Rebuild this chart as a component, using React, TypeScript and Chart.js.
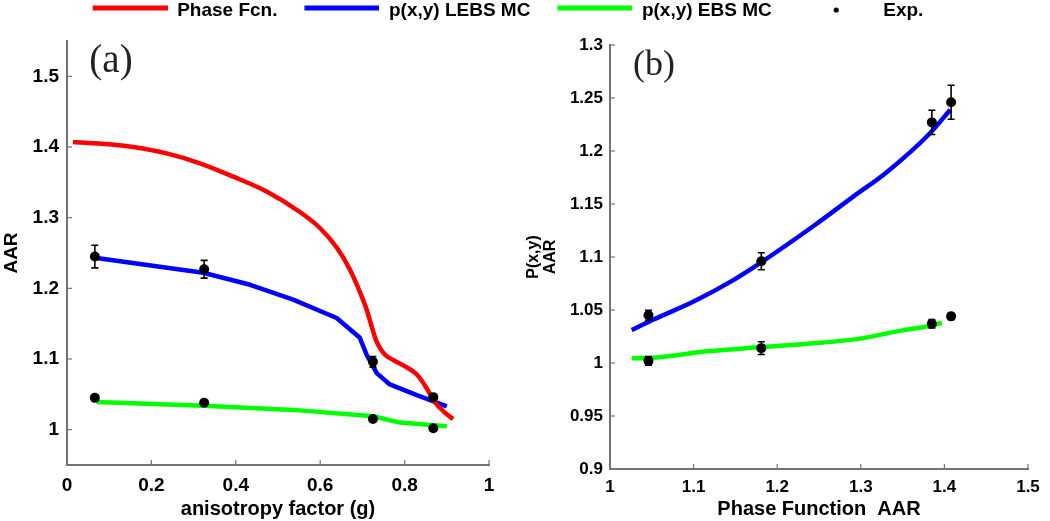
import React, { useEffect, useRef } from 'react';
import { Chart, registerables } from 'chart.js';

Chart.register(...registerables);

// ---------- Panel (a): AAR vs anisotropy factor g ----------
const G_PHASE = [0.014, 0.100, 0.157, 0.236, 0.315, 0.394, 0.473, 0.552, 0.600, 0.640, 0.670, 0.694, 0.710, 0.722, 0.732, 0.742, 0.754, 0.772, 0.797, 0.829, 0.852, 0.868, 0.892, 0.915];
const AAR_PHASE = [1.407, 1.404, 1.400, 1.391, 1.377, 1.358, 1.337, 1.308, 1.285, 1.257, 1.227, 1.195, 1.170, 1.146, 1.127, 1.115, 1.106, 1.099, 1.091, 1.078, 1.059, 1.042, 1.026, 1.015];

const G_LEBS = [0.070, 0.323, 0.434, 0.536, 0.639, 0.694, 0.710, 0.734, 0.765, 0.829, 0.900];
const AAR_LEBS = [1.243, 1.222, 1.205, 1.184, 1.158, 1.130, 1.106, 1.080, 1.064, 1.049, 1.033];

const G_EBS = [0.070, 0.323, 0.536, 0.726, 0.789, 0.900];
const AAR_EBS = [1.039, 1.034, 1.028, 1.019, 1.010, 1.005];

const G_EXP = [0.066, 0.325, 0.725, 0.868];
const EXP_LEBS_A = [1.245, 1.227, 1.096, 1.046];
const ERR_LEBS_A = [0.016, 0.0125, 0.0075, 0.003];
const EXP_EBS_A = [1.045, 1.038, 1.015, 1.002];
const ERR_EBS_A = [0.003, 0.003, 0.003, 0.003];

// ---------- Panel (b): P(x,y) AAR vs Phase Function AAR ----------
const PF_LEBS = [1.026, 1.052, 1.100, 1.147, 1.179, 1.243, 1.291, 1.331, 1.383, 1.407];
const P_LEBS = [1.031, 1.041, 1.058, 1.078, 1.094, 1.129, 1.157, 1.180, 1.217, 1.239];

const PF_EBS = [1.026, 1.052, 1.116, 1.181, 1.251, 1.299, 1.351, 1.383, 1.397];
const P_EBS = [1.0045, 1.005, 1.011, 1.015, 1.019, 1.023, 1.031, 1.035, 1.038];

const PF_EXP = [1.046, 1.181, 1.385, 1.408];
const EXP_LEBS_B = [1.045, 1.096, 1.227, 1.246];
const ERR_LEBS_B = [0.0047, 0.008, 0.0115, 0.016];
const EXP_EBS_B = [1.002, 1.014, 1.037, 1.044];
const ERR_EBS_B = [0.004, 0.006, 0.004, 0.003];

// ---------- Ticks ----------
const XA_TICKS = [0, 0.2, 0.4, 0.6, 0.8, 1];
const XA_LABELS = ['0', '0.2', '0.4', '0.6', '0.8', '1'];
const YA_TICKS = [1, 1.1, 1.2, 1.3, 1.4, 1.5];
const YA_LABELS = ['1', '1.1', '1.2', '1.3', '1.4', '1.5'];
const XB_TICKS = [1, 1.1, 1.2, 1.3, 1.4, 1.5];
const XB_LABELS = ['1', '1.1', '1.2', '1.3', '1.4', '1.5'];
const YB_TICKS = [0.9, 0.95, 1, 1.05, 1.1, 1.15, 1.2, 1.25, 1.3];
const YB_LABELS = ['0.9', '0.95', '1', '1.05', '1.1', '1.15', '1.2', '1.25', '1.3'];

const LEGEND_LABELS = ['Phase Fcn.', 'p(x,y) LEBS MC', 'p(x,y) EBS MC', 'Exp.'];

const RED = '#ff0000';
const BLUE = '#0000ff';
const GREEN = '#00ff00';
const BLACK = '#000000';
const AXIS = '#737373';
const FONT = '"Liberation Sans", Arial, Helvetica, sans-serif';
const SERIF = '"Liberation Serif", "DejaVu Serif", serif';

const pts = (xs: number[], ys: number[]) => xs.map((x, i) => ({ x, y: ys[i] }));

const errorBarPlugin = {
  id: 'errorBars',
  afterDatasetsDraw(chart: any) {
    const ctx = chart.ctx;
    chart.data.datasets.forEach((ds: any, di: number) => {
      if (!ds.errors) return;
      const meta = chart.getDatasetMeta(di);
      const xs = chart.scales[meta.xAxisID];
      const ys = chart.scales[meta.yAxisID];
      ctx.save();
      ctx.strokeStyle = BLACK;
      ctx.lineWidth = 1.6;
      ds.data.forEach((p: any, i: number) => {
        const e = ds.errors[i];
        const x = xs.getPixelForValue(p.x);
        const y1 = ys.getPixelForValue(p.y - e);
        const y2 = ys.getPixelForValue(p.y + e);
        ctx.beginPath();
        ctx.moveTo(x, y1); ctx.lineTo(x, y2);
        ctx.moveTo(x - 3.5, y1); ctx.lineTo(x + 3.5, y1);
        ctx.moveTo(x - 3.5, y2); ctx.lineTo(x + 3.5, y2);
        ctx.stroke();
      });
      ctx.restore();
    });
  },
};

const inwardTicks = {
  id: 'inwardTicks',
  afterDraw(chart: any) {
    const { ctx, chartArea } = chart;
    const xs = chart.scales.x;
    const ys = chart.scales.y;
    ctx.save();
    ctx.strokeStyle = AXIS;
    ctx.lineWidth = 1.2;
    xs.ticks.forEach((t: any) => {
      const px = xs.getPixelForValue(t.value);
      ctx.beginPath(); ctx.moveTo(px, chartArea.bottom); ctx.lineTo(px, chartArea.bottom - 5); ctx.stroke();
    });
    ys.ticks.forEach((t: any) => {
      const py = ys.getPixelForValue(t.value);
      ctx.beginPath(); ctx.moveTo(chartArea.left, py); ctx.lineTo(chartArea.left + 5, py); ctx.stroke();
    });
    ctx.restore();
  },
};

const panelLabel = {
  id: 'panelLabel',
  afterDraw(chart: any, _args: any, opts: any) {
    const { ctx, chartArea } = chart;
    ctx.save();
    ctx.font = `${opts.size}px ${SERIF}`;
    ctx.fillStyle = '#222';
    ctx.textAlign = 'center';
    ctx.textBaseline = 'alphabetic';
    ctx.fillText(opts.text, chartArea.left + opts.dx, chartArea.top + opts.dy);
    ctx.restore();
  },
};

function legendSymbol(color: string, kind: 'line' | 'dot'): HTMLCanvasElement {
  const c = document.createElement('canvas');
  c.width = 101;
  c.height = 21;
  const g = c.getContext('2d')!;
  g.fillStyle = color;
  if (kind === 'line') {
    g.fillRect(26, 5.5, 75, 5);
  } else {
    g.beginPath();
    g.arc(63.5, 10, 2.6, 0, Math.PI * 2);
    g.fill();
  }
  return c;
}

function fixedTicks(values: number[]) {
  return (s: any) => {
    s.ticks = values.map((v) => ({ value: v }));
  };
}

function axisOpts(opts: any) {
  return {
    type: 'linear',
    min: opts.min,
    max: opts.max,
    position: opts.position,
    afterBuildTicks: fixedTicks(opts.ticks),
    afterFit: opts.afterFit,
    grid: { display: false, drawTicks: false },
    border: { display: true, color: AXIS, width: 2 },
    ticks: {
      autoSkip: false,
      maxRotation: 0,
      padding: opts.pad,
      color: BLACK,
      font: { family: FONT, size: opts.tickSize, weight: 'bold' },
      callback: (_v: any, i: number) => opts.labels[i],
    },
    title: {
      display: true,
      text: opts.title,
      color: BLACK,
      font: { family: FONT, size: opts.titleSize, weight: 'bold', lineHeight: opts.titleLH || 1.2 },
      padding: opts.titlePad || 0,
    },
  };
}

const dummyAxis = (position: string, size: number) => ({
  type: 'linear',
  position,
  display: true,
  grid: { display: false, drawTicks: false },
  border: { display: false },
  ticks: { display: false },
  title: { display: false },
  afterFit: (s: any) => {
    if (position === 'top' || position === 'bottom') s.height = size;
    else s.width = size;
  },
});

const expDataset = (label: string, xs: number[], ys: number[], errs: number[], order: number) => ({
  label,
  data: pts(xs, ys),
  errors: errs,
  showLine: false,
  pointRadius: 5,
  pointBorderWidth: 0,
  pointBackgroundColor: BLACK,
  pointBorderColor: BLACK,
  borderColor: BLACK,
  backgroundColor: BLACK,
  order,
});

const lineDataset = (label: string, xs: number[], ys: number[], color: string, order: number, smooth: boolean) => ({
  label,
  data: pts(xs, ys),
  borderColor: color,
  backgroundColor: color,
  borderWidth: 4.5,
  pointRadius: 0,
  fill: false,
  tension: 0,
  borderJoinStyle: 'round',
  cubicInterpolationMode: smooth ? 'monotone' : 'default',
  order,
});

export default function App() {
  const refA = useRef<HTMLCanvasElement>(null);
  const refB = useRef<HTMLCanvasElement>(null);

  useEffect(() => {
    const symbols = [
      legendSymbol(RED, 'line'),
      legendSymbol(BLUE, 'line'),
      legendSymbol(GREEN, 'line'),
      legendSymbol(BLACK, 'dot'),
    ];

    const chartA = new Chart(refA.current as HTMLCanvasElement, {
      type: 'line',
      data: {
        datasets: [
          expDataset('Exp. LEBS', G_EXP, EXP_LEBS_A, ERR_LEBS_A, 0),
          expDataset('Exp. EBS', G_EXP, EXP_EBS_A, ERR_EBS_A, 1),
          lineDataset(LEGEND_LABELS[0], G_PHASE, AAR_PHASE, RED, 2, true),
          lineDataset(LEGEND_LABELS[1], G_LEBS, AAR_LEBS, BLUE, 3, false),
          lineDataset(LEGEND_LABELS[2], G_EBS, AAR_EBS, GREEN, 4, false),
        ] as any,
      },
      options: {
        animation: false,
        responsive: false,
        events: [],
        layout: { padding: { left: 0, top: 0, right: 60, bottom: 0 } },
        plugins: {
          legend: {
            display: true,
            position: 'top',
            labels: {
              usePointStyle: true,
              pointStyleWidth: 101,
              padding: 1,
              color: BLACK,
              font: { family: FONT, size: 19, weight: 'bold' },
              generateLabels: () =>
                LEGEND_LABELS.map((text, i) => ({
                  text,
                  pointStyle: symbols[i],
                  fillStyle: 'transparent',
                  strokeStyle: 'transparent',
                  lineWidth: 0,
                  hidden: false,
                  fontColor: BLACK,
                  datasetIndex: i,
                })),
            },
          },
          tooltip: { enabled: false },
          panelLabel: { text: '(a)', dx: 44, dy: 31, size: 39 },
        } as any,
        scales: {
          x: axisOpts({
            min: 0, max: 1, position: 'bottom', ticks: XA_TICKS, labels: XA_LABELS,
            pad: 9, tickSize: 19, title: 'anisotropy factor (g)', titleSize: 20,
            afterFit: (s: any) => { s.height = 56; },
          }),
          y: axisOpts({
            min: 0.95, max: 1.55, position: 'left', ticks: YA_TICKS, labels: YA_LABELS,
            pad: 8, tickSize: 19, title: 'AAR', titleSize: 19,
            afterFit: (s: any) => { s.width = 67; },
          }),
          xTop: dummyAxis('top', 11),
          yRight: dummyAxis('right', 501),
        } as any,
      },
      plugins: [errorBarPlugin, inwardTicks, panelLabel],
    });

    const chartB = new Chart(refB.current as HTMLCanvasElement, {
      type: 'line',
      data: {
        datasets: [
          expDataset('Exp. LEBS', PF_EXP, EXP_LEBS_B, ERR_LEBS_B, 0),
          expDataset('Exp. EBS', PF_EXP, EXP_EBS_B, ERR_EBS_B, 1),
          lineDataset(LEGEND_LABELS[1], PF_LEBS, P_LEBS, BLUE, 2, true),
          lineDataset(LEGEND_LABELS[2], PF_EBS, P_EBS, GREEN, 3, true),
        ] as any,
      },
      options: {
        animation: false,
        responsive: false,
        events: [],
        layout: { padding: { left: 0, top: 45, right: 22, bottom: 0 } },
        plugins: {
          legend: { display: false },
          tooltip: { enabled: false },
          panelLabel: { text: '(b)', dx: 44, dy: 30, size: 36 },
        } as any,
        scales: {
          x: axisOpts({
            min: 1, max: 1.5, position: 'bottom', ticks: XB_TICKS, labels: XB_LABELS,
            pad: 8, tickSize: 17, title: 'Phase Function  AAR', titleSize: 20,
            afterFit: (s: any) => { s.height = 52; },
          }),
          y: axisOpts({
            min: 0.9, max: 1.3, position: 'left', ticks: YB_TICKS, labels: YB_LABELS,
            pad: 7, tickSize: 17, title: ['P(x,y)', 'AAR'], titleSize: 16, titleLH: 1.08,
            titlePad: { top: 5, bottom: 0 },
            afterFit: (s: any) => { s.width = 90; },
          }),
        } as any,
      },
      plugins: [errorBarPlugin, inwardTicks, panelLabel],
    });

    return () => {
      chartA.destroy();
      chartB.destroy();
    };
  }, []);

  return (
    <div style={{ position: 'absolute', left: 0, top: 0, width: 1050, height: 521, background: '#fff' }}>
      <canvas ref={refA} width={1050} height={521} style={{ position: 'absolute', left: 0, top: 0 }} />
      <canvas ref={refB} width={530} height={521} style={{ position: 'absolute', left: 520, top: 0 }} />
    </div>
  );
}
